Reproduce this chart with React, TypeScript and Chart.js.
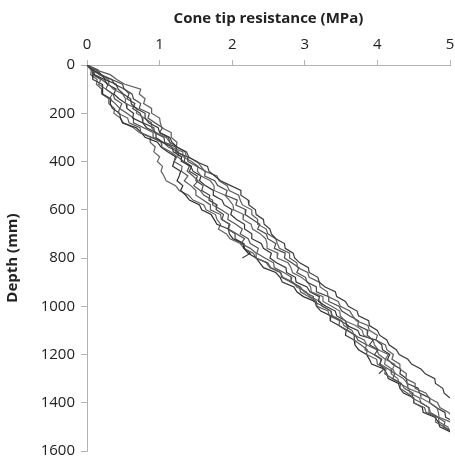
import React, { useEffect, useRef } from "react";
import { Chart, registerables } from "chart.js";

Chart.register(...registerables);

const depths = [0, 20, 40, 60, 80, 100, 120, 140, 160, 180, 200, 220, 240, 260, 280, 300, 320, 340, 360, 380, 400, 420, 440, 460, 480, 500, 520, 540, 560, 580, 600, 620, 640, 660, 680, 700, 720, 740, 760, 780, 800, 820, 840, 860, 880, 900, 920, 940, 960, 980, 1000, 1020, 1040, 1060, 1080, 1100, 1120, 1140, 1160, 1180, 1200, 1220, 1240, 1260, 1280, 1300, 1320, 1340, 1360, 1380, 1400, 1420, 1440, 1460, 1480, 1500, 1520, 1540, 1560];

const xTicks = [0, 1, 2, 3, 4, 5];
const yTicks = [0, 200, 400, 600, 800, 1000, 1200, 1400, 1600];

const testA = [0, 0.07, 0.20, 0.25, 0.40, 0.43, 0.50, 0.60, 0.61, 0.68, 0.80, 0.80, 0.85, 0.98, 1.00, 1.14, 1.17, 1.24, 1.37, 1.40, 1.50, 1.66, 1.68, 1.76, 1.84, 1.98, 2.12, 2.12, 2.22, 2.23, 2.32, 2.33, 2.43, 2.44, 2.52, 2.54, 2.60, 2.72, 2.73, 2.84, 2.86, 2.93, 3.05, 3.06, 3.18, 3.20, 3.28, 3.42, 3.44, 3.56, 3.60, 3.72, 3.74, 3.88, 3.89, 4.00, 4.03, 4.13, 4.16, 4.26, 4.30, 4.42, 4.47, 4.60, 4.66, 4.79, 4.80, 4.90, 4.92, 5.00, 5.06];
const testH = [0, 0.12, 0.32, 0.41, 0.52, 0.74, 0.72, 0.80, 0.78, 0.89, 0.89, 1.00, 1.01, 1.03, 1.16, 1.16, 1.24, 1.23, 1.35, 1.37, 1.52, 1.57, 1.62, 1.79, 1.82, 1.93, 1.96, 2.09, 2.11, 2.14, 2.27, 2.27, 2.35, 2.35, 2.47, 2.49, 2.60, 2.62, 2.65, 2.79, 2.79, 2.89, 2.90, 3.04, 3.06, 3.20, 3.21, 3.31, 3.32, 3.46, 3.49, 3.62, 3.66, 3.71, 3.87, 3.89, 4.00, 3.98, 4.11, 4.13, 4.22, 4.20, 4.31, 4.31, 4.40, 4.39, 4.52, 4.52, 4.67, 4.71, 4.83, 4.86, 4.98, 5.04];
const testF = [0, 0.15, 0.19, 0.34, 0.49, 0.51, 0.62, 0.64, 0.74, 0.72, 0.86, 0.84, 0.94, 1.04, 1.00, 1.12, 1.14, 1.24, 1.22, 1.38, 1.39, 1.51, 1.63, 1.62, 1.76, 1.80, 1.93, 1.91, 2.07, 2.05, 2.19, 2.18, 2.28, 2.38, 2.35, 2.47, 2.49, 2.60, 2.58, 2.73, 2.72, 2.82, 2.92, 2.89, 3.01, 3.03, 3.16, 3.16, 3.33, 3.33, 3.47, 3.51, 3.62, 3.74, 3.73, 3.87, 3.86, 3.94, 3.89, 4.01, 3.96, 4.06, 4.03, 4.09, 4.02];
const testJ = [0, 0.05, 0.18, 0.29, 0.30, 0.36, 0.49, 0.53, 0.53, 0.69, 0.68, 0.79, 0.89, 0.89, 0.95, 1.09, 1.14, 1.16, 1.32, 1.32, 1.44, 1.53, 1.52, 1.57, 1.70, 1.75, 1.75, 1.90, 1.96, 2.01, 2.02, 2.16, 2.15, 2.26, 2.28, 2.39, 2.46, 2.48, 2.48, 2.63, 2.62, 2.77, 2.81, 2.83, 2.95, 3.04, 3.08, 3.09, 3.25, 3.25, 3.37, 3.48, 3.49, 3.55, 3.70, 3.79, 3.81, 3.94, 3.96, 4.01, 4.15, 4.11, 4.24, 4.21, 4.25, 4.36, 4.41, 4.42, 4.59, 4.60, 4.72, 4.82, 4.84, 4.85, 5.01, 5.06];
const testB = [0, 0.09, 0.10, 0.24, 0.28, 0.40, 0.37, 0.44, 0.54, 0.55, 0.64, 0.63, 0.77, 0.82, 0.95, 0.95, 1.04, 1.17, 1.19, 1.30, 1.30, 1.43, 1.46, 1.57, 1.55, 1.63, 1.74, 1.74, 1.86, 1.89, 2.00, 1.98, 2.06, 2.17, 2.17, 2.27, 2.27, 2.40, 2.43, 2.54, 2.52, 2.61, 2.74, 2.75, 2.87, 2.88, 3.03, 3.07, 3.20, 3.19, 3.29, 3.42, 3.44, 3.56, 3.58, 3.73, 3.76, 3.98, 4.06, 4.07, 4.17, 4.14, 4.21, 4.32, 4.31, 4.40, 4.41, 4.56, 4.58, 4.72, 4.72, 4.81, 4.93, 4.94, 5.06];
const testE = [0, 0.10, 0.09, 0.20, 0.29, 0.26, 0.36, 0.38, 0.48, 0.45, 0.55, 0.64, 0.64, 0.78, 0.91, 0.91, 1.05, 1.12, 1.26, 1.25, 1.33, 1.41, 1.38, 1.46, 1.53, 1.47, 1.56, 1.61, 1.73, 1.73, 1.85, 1.95, 1.94, 2.05, 2.14, 2.11, 2.22, 2.25, 2.36, 2.34, 2.45, 2.57, 2.58, 2.71, 2.82, 2.81, 2.94, 2.99, 3.12, 3.12, 3.25, 3.36, 3.37, 3.49, 3.60, 3.58, 3.70, 3.73, 3.85, 3.83, 3.95, 4.05, 4.04, 4.15, 4.24, 4.21, 4.33, 4.37, 4.49, 4.48, 4.60, 4.71, 4.71, 4.83, 4.93, 4.91, 5.03];
const testC = [0, 0.08, 0.08, 0.19, 0.16, 0.26, 0.35, 0.31, 0.39, 0.45, 0.43, 0.56, 0.58, 0.73, 0.74, 0.89, 1.02, 1.03, 1.15, 1.24, 1.20, 1.31, 1.30, 1.39, 1.34, 1.43, 1.50, 1.50, 1.60, 1.70, 1.70, 1.84, 1.85, 1.97, 1.95, 2.06, 2.17, 2.12, 2.25, 2.33, 2.33, 2.49, 2.53, 2.67, 2.68, 2.81, 2.93, 2.94, 3.05, 3.16, 3.17, 3.32, 3.34, 3.48, 3.47, 3.59, 3.69, 3.68, 3.77, 3.86, 3.85, 3.99, 4.00, 4.12, 4.10, 4.21, 4.32, 4.31, 4.41, 4.50, 4.50, 4.65, 4.67, 4.81, 4.80, 4.92, 5.03, 5.05];
const testD = [0, 0.07, 0.08, 0.08, 0.21, 0.22, 0.21, 0.33, 0.32, 0.35, 0.45, 0.46, 0.49, 0.68, 0.75, 0.80, 0.97, 1.02, 1.11, 1.22, 1.20, 1.18, 1.29, 1.27, 1.24, 1.32, 1.29, 1.36, 1.41, 1.55, 1.58, 1.71, 1.75, 1.79, 1.95, 1.96, 2.01, 2.15, 2.16, 2.22, 2.33, 2.38, 2.43, 2.60, 2.66, 2.69, 2.85, 2.89, 2.98, 3.14, 3.16, 3.22, 3.36, 3.35, 3.47, 3.57, 3.56, 3.68, 3.69, 3.74, 3.85, 3.89, 3.92, 4.09, 4.13, 4.15, 4.29, 4.31, 4.36, 4.50, 4.50, 4.62, 4.63, 4.79, 4.84, 4.86, 5.00, 5.04];
const testI = [0, 0.06, 0.05, 0.14, 0.13, 0.20, 0.20, 0.30, 0.30, 0.38, 0.37, 0.46, 0.50, 0.64, 0.72, 0.88, 0.87, 0.94, 0.92, 1.00, 0.97, 1.04, 1.02, 1.06, 1.09, 1.22, 1.27, 1.40, 1.46, 1.61, 1.64, 1.77, 1.79, 1.84, 1.81, 1.92, 1.97, 2.11, 2.16, 2.29, 2.33, 2.47, 2.52, 2.66, 2.70, 2.84, 2.89, 3.02, 3.07, 3.21, 3.24, 3.36, 3.38, 3.51, 3.54, 3.65, 3.68, 3.82, 3.85, 3.99, 4.02, 4.11, 4.10, 4.20, 4.19, 4.28, 4.30, 4.43, 4.45, 4.58, 4.60, 4.71, 4.73, 4.84, 4.85, 4.97, 5.00];
const testG = [0, 0.12, 0.17, 0.34, 0.38, 0.52, 0.58, 0.55, 0.66, 0.63, 0.73, 0.76, 0.77, 0.92, 0.93, 1.06, 1.07, 1.22, 1.24, 1.35, 1.34, 1.44, 1.41, 1.52, 1.50, 1.60, 1.58, 1.69, 1.68, 1.79, 1.78, 1.88, 1.86, 1.96, 1.94, 2.04, 2.04, 2.16, 2.17, 2.25, 2.14];

const seriesList = [testA, testH, testF, testJ, testB, testE, testC, testD, testI, testG];
const lineColors = ["#3a3a3a", "#5e5e5e", "#4a4a4a", "#666666", "#333333", "#555555", "#5a5a5a", "#2e2e2e", "#626262", "#444444"];

const FONT = "'Open Sans', 'Liberation Sans', sans-serif";
const TEXT = "#222222";
const AXIS = "#b3b3b3";

export default function App() {
  const ref = useRef<HTMLCanvasElement | null>(null);

  useEffect(() => {
    if (!ref.current) return;
    const datasets = seriesList.map((vals, k) => ({
      label: "Test " + (k + 1),
      data: vals.map((x, i) => ({ x, y: depths[i] })),
      showLine: true,
      borderColor: lineColors[k],
      backgroundColor: lineColors[k],
      borderWidth: 1.2,
      pointRadius: 0,
      pointHoverRadius: 0,
      fill: false,
      tension: 0,
    }));
    const chart = new Chart(ref.current, {
      type: "scatter",
      data: { datasets },
      options: {
        animation: false,
        responsive: false,
        maintainAspectRatio: false,
        layout: { padding: { top: 0, left: 0, right: 5, bottom: 12 } },
        plugins: { legend: { display: false }, tooltip: { enabled: false } },
        scales: {
          x: {
            type: "linear",
            position: "top",
            min: 0,
            max: 5,
            afterBuildTicks: (s: any) => {
              s.ticks = xTicks.map((v) => ({ value: v }));
            },
            afterFit: (s: any) => {
              s.height = 65;
              s.paddingRight = 0;
              s.paddingLeft = 0;
            },
            ticks: { color: TEXT, font: { family: FONT, size: 15 }, padding: 6, maxRotation: 0, callback: (v: any) => String(v) },
            grid: { display: true, drawOnChartArea: false, drawTicks: true, tickLength: 5, color: AXIS },
            border: { display: true, color: AXIS, width: 1 },
            title: {
              display: true,
              text: "Cone tip resistance (MPa)",
              color: TEXT,
              font: { family: FONT, size: 15, weight: "bold" },
              padding: { top: 10, bottom: 2 },
            },
          },
          y: {
            type: "linear",
            reverse: true,
            min: 0,
            max: 1600,
            afterBuildTicks: (s: any) => {
              s.ticks = yTicks.map((v) => ({ value: v }));
            },
            afterFit: (s: any) => {
              s.width = 87;
              s.paddingTop = 0;
              s.paddingBottom = 0;
            },
            ticks: { color: TEXT, font: { family: FONT, size: 15 }, padding: 6, callback: (v: any) => String(v) },
            grid: { display: true, drawOnChartArea: false, drawTicks: true, tickLength: 6, color: AXIS },
            border: { display: true, color: AXIS, width: 1 },
            title: {
              display: true,
              text: "Depth (mm)",
              color: TEXT,
              font: { family: FONT, size: 15, weight: "bold" },
              padding: { top: 4, bottom: 0 },
            },
          },
        },
      },
    });
    return () => chart.destroy();
  }, []);

  return (
    <div style={{ position: "absolute", left: 0, top: 0, width: 455, height: 463, background: "#fff" }}>
      <canvas ref={ref} width={455} height={463} />
    </div>
  );
}
